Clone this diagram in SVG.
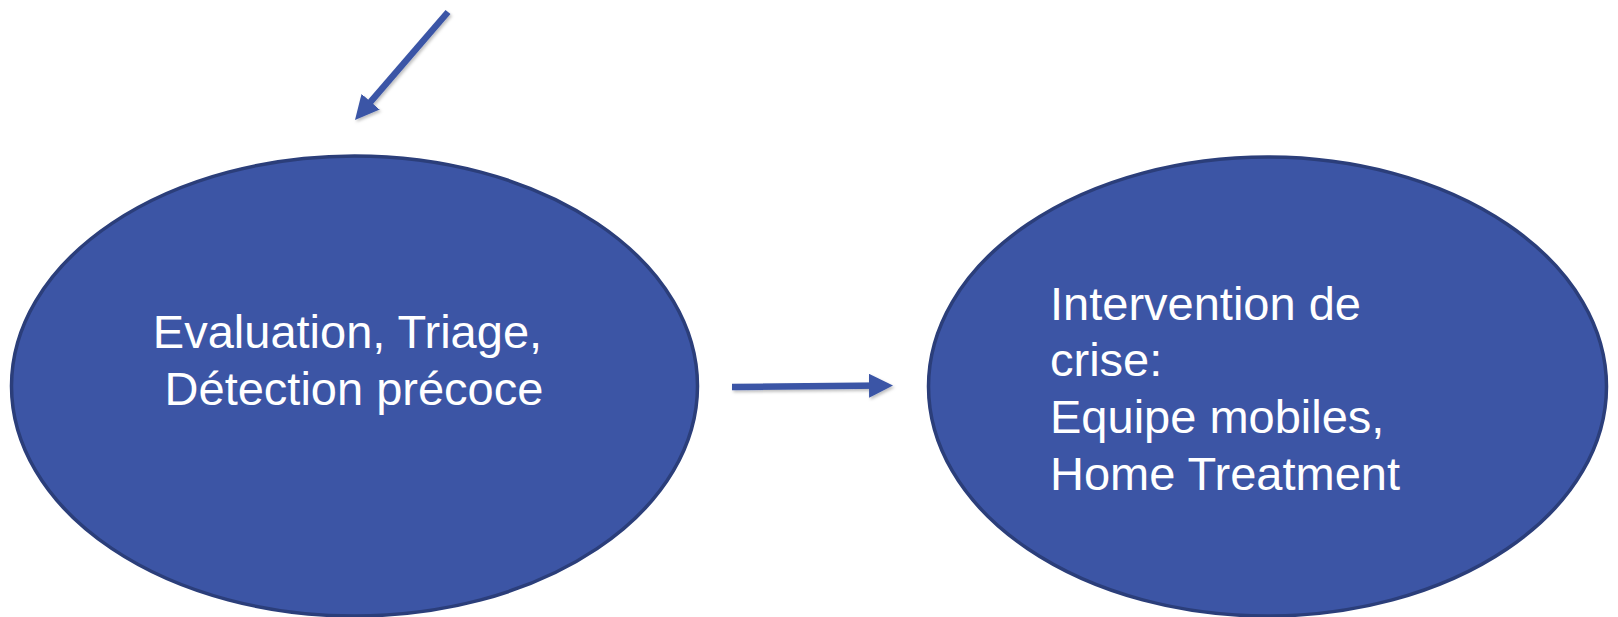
<svg xmlns="http://www.w3.org/2000/svg" width="1618" height="617" viewBox="0 0 1618 617">
  <style>
    .node ellipse { fill: #3C55A5; stroke: #2B3E7A; stroke-width: 3.5; }
    .label { font-family: "Liberation Sans", Arial, sans-serif; font-size: 47px; fill: #FFFFFF; }
    .conn { stroke: #3A55A6; stroke-width: 6.5; fill: none; marker-end: url(#head); }
  </style>
  <defs>
    <marker id="head" markerUnits="userSpaceOnUse" viewBox="0 0 24 24" markerWidth="24" markerHeight="24" refX="16" refY="12" orient="auto">
      <path d="M0,0 L24,12 L0,24 z" fill="#3A55A6"/>
    </marker>
    <filter id="shadow" filterUnits="userSpaceOnUse" x="0" y="0" width="1618" height="617">
      <feDropShadow dx="1.5" dy="2" stdDeviation="1.5" flood-color="#000000" flood-opacity="0.25"/>
    </filter>
  </defs>
  <rect width="1618" height="617" fill="#FFFFFF"/>
  <g id="connectors" filter="url(#shadow)">
    <line class="conn" x1="448" y1="12" x2="360.2" y2="113.9"/>
    <line class="conn" x1="732" y1="387" x2="885" y2="385.6"/>
  </g>
  <g id="node-evaluation" class="node">
    <ellipse cx="354.5" cy="386" rx="343" ry="230"/>
    <text class="label" text-anchor="middle">
      <tspan x="354" y="348">Evaluation, Triage,</tspan>
      <tspan x="354" y="405">Détection précoce</tspan>
    </text>
  </g>
  <g id="node-intervention" class="node">
    <ellipse cx="1267.5" cy="386.5" rx="339" ry="229.5"/>
    <text class="label">
      <tspan x="1050" y="320">Intervention de</tspan>
      <tspan x="1050" y="376">crise:</tspan>
      <tspan x="1050" y="433">Equipe mobiles,</tspan>
      <tspan x="1050" y="490">Home Treatment</tspan>
    </text>
  </g>
</svg>
